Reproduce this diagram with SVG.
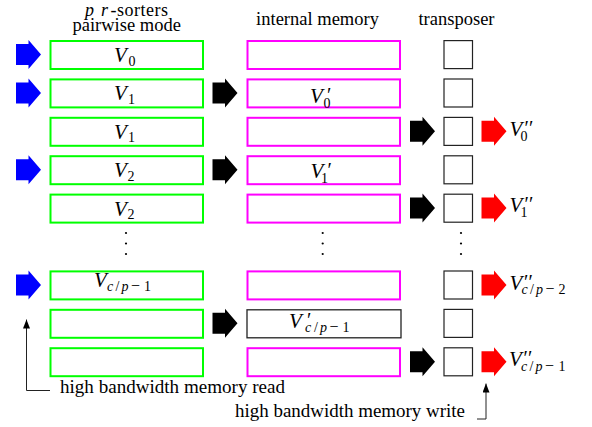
<svg xmlns="http://www.w3.org/2000/svg" width="592" height="427" viewBox="0 0 592 427">
<style>
text{font-family:'Liberation Serif','DejaVu Serif',serif}
.t{font-size:18.5px;fill:#000}
.h{font-size:18px}
.v{font-size:21px;font-style:italic;fill:#000}
.s{font-size:14px;font-style:normal}
.i{font-style:italic}
.mi{font-size:16px}
.pr{font-style:normal;font-size:20px}
.g{fill:none;stroke:#00ff00;stroke-width:2}
.m{fill:none;stroke:#ff00ff;stroke-width:2}
.k{fill:none;stroke:#222;stroke-width:1.3}
.q{fill:none;stroke:#222;stroke-width:1.2}
.ab{fill:#0000ff}
.ak{fill:#000}
.ar{fill:#ff0000}
.ln{fill:none;stroke:#222;stroke-width:1}
.dot{fill:#000}
</style>
<defs>
<path id="arr" d="M0,-10.5 H12.5 V-14.5 L25,0 L12.5,14.5 V10.5 H0 Z"/>
<marker id="tip" markerWidth="9" markerHeight="7" refX="9" refY="3.5" orient="auto" markerUnits="userSpaceOnUse">
<path d="M0,0 L9,3.5 L0,7 Z" fill="#000"/>
</marker>
</defs>

<g id="headers">
<text class="t h" y="15.5"><tspan x="85" class="i">p</tspan><tspan x="101" class="i">r</tspan><tspan x="110.5" textLength="57.5">-sorters</tspan></text>
<text class="t" x="126.7" y="31" text-anchor="middle">pairwise mode</text>
<text class="t" x="317.5" y="24.5" text-anchor="middle">internal memory</text>
<text class="t" x="456.5" y="24.5" text-anchor="middle">transposer</text>
</g>

<g id="sorters">
<g id="s0"><rect class="g" x="50.5" y="41" width="152.5" height="28"/><text class="v"><tspan x="114" y="62">V</tspan><tspan class="s" x="128.5" y="65.5">0</tspan></text></g>
<g id="s1"><rect class="g" x="50.5" y="79.4" width="152.5" height="28"/><text class="v"><tspan x="114" y="100.4">V</tspan><tspan class="s" x="128" y="103.9">1</tspan></text></g>
<g id="s2"><rect class="g" x="50.5" y="117.8" width="152.5" height="28"/><text class="v"><tspan x="114" y="138.8">V</tspan><tspan class="s" x="128" y="142.3">1</tspan></text></g>
<g id="s3"><rect class="g" x="50.5" y="156.2" width="152.5" height="28"/><text class="v"><tspan x="114" y="177.2">V</tspan><tspan class="s" x="127.5" y="180.7">2</tspan></text></g>
<g id="s4"><rect class="g" x="50.5" y="194.6" width="152.5" height="28"/><text class="v"><tspan x="114" y="215.6">V</tspan><tspan class="s" x="127.5" y="219.1">2</tspan></text></g>
<g id="s6"><rect class="g" x="50.5" y="271.4" width="152.5" height="28"/><text class="v"><tspan x="94" y="287">V</tspan><tspan class="s i" x="107" y="290.5">c</tspan><tspan class="s" x="115.5">/</tspan><tspan class="s i" x="121.5">p</tspan><tspan class="s mi" x="131">−</tspan><tspan class="s" x="144">1</tspan></text></g>
<g id="s7"><rect class="g" x="50.5" y="309.8" width="152.5" height="28"/></g>
<g id="s8"><rect class="g" x="50.5" y="348.2" width="152.5" height="28"/></g>
</g>

<g id="memory">
<g id="m0"><rect class="m" x="247.5" y="41" width="152.5" height="28"/></g>
<g id="m1"><rect class="m" x="247.5" y="79.4" width="152.5" height="28"/><text class="v"><tspan x="310" y="103">V</tspan><tspan class="pr" x="327" y="102">′</tspan><tspan class="s" x="323.5" y="107.5">0</tspan></text></g>
<g id="m2"><rect class="m" x="247.5" y="117.8" width="152.5" height="28"/></g>
<g id="m3"><rect class="m" x="247.5" y="156.2" width="152.5" height="28"/><text class="v"><tspan x="310.5" y="178.3">V</tspan><tspan class="pr" x="327.5" y="177.3">′</tspan><tspan class="s" x="321" y="183.3">1</tspan></text></g>
<g id="m4"><rect class="m" x="247.5" y="194.6" width="152.5" height="28"/></g>
<g id="m6"><rect class="m" x="247.5" y="271.4" width="152.5" height="28"/></g>
<g id="m7"><rect class="k" x="247" y="309.8" width="154" height="28"/><text class="v"><tspan x="289" y="328.3">V</tspan><tspan class="pr" x="307" y="327.3">′</tspan><tspan class="s i" x="305" y="331.8">c</tspan><tspan class="s" x="314">/</tspan><tspan class="s i" x="320">p</tspan><tspan class="s mi" x="329.5">−</tspan><tspan class="s" x="342.5">1</tspan></text></g>
<g id="m8"><rect class="m" x="247.5" y="348.2" width="152.5" height="28"/></g>
</g>

<g id="transposer">
<rect class="q" x="444" y="40.6" width="28.5" height="28"/>
<rect class="q" x="444" y="79" width="28.5" height="28"/>
<rect class="q" x="444" y="117.4" width="28.5" height="28"/>
<rect class="q" x="444" y="155.8" width="28.5" height="28"/>
<rect class="q" x="444" y="194.2" width="28.5" height="28"/>
<rect class="q" x="444" y="271" width="28.5" height="28"/>
<rect class="q" x="444" y="309.4" width="28.5" height="28"/>
<rect class="q" x="444" y="347.8" width="28.5" height="28"/>
</g>

<g id="dots">
<circle class="dot" cx="126" cy="233" r="1.1"/><circle class="dot" cx="126" cy="243.5" r="1.1"/><circle class="dot" cx="126" cy="254" r="1.1"/>
<circle class="dot" cx="322.7" cy="233" r="1.1"/><circle class="dot" cx="322.7" cy="243.5" r="1.1"/><circle class="dot" cx="322.7" cy="254" r="1.1"/>
<circle class="dot" cx="461" cy="233" r="1.1"/><circle class="dot" cx="461" cy="243.5" r="1.1"/><circle class="dot" cx="461" cy="254" r="1.1"/>
</g>

<g id="outputs">
<text class="v"><tspan x="509.5" y="135.5">V</tspan><tspan class="pr" x="524.5" y="134.5">′′</tspan><tspan class="s" x="520.5" y="140.5">0</tspan></text>
<text class="v"><tspan x="509.5" y="211.7">V</tspan><tspan class="pr" x="524.5" y="210.7">′′</tspan><tspan class="s" x="520.5" y="217">1</tspan></text>
<text class="v"><tspan x="509.5" y="290">V</tspan><tspan class="pr" x="524" y="289">′′</tspan><tspan class="s i" x="521.5" y="294">c</tspan><tspan class="s" x="530">/</tspan><tspan class="s i" x="536">p</tspan><tspan class="s mi" x="545.5">−</tspan><tspan class="s" x="558.5">2</tspan></text>
<text class="v"><tspan x="509" y="366">V</tspan><tspan class="pr" x="523.5" y="365">′′</tspan><tspan class="s i" x="521" y="371">c</tspan><tspan class="s" x="529.5">/</tspan><tspan class="s i" x="535.5">p</tspan><tspan class="s mi" x="545">−</tspan><tspan class="s" x="558.5">1</tspan></text>
</g>

<g id="connectors">
<use href="#arr" class="ab" x="16" y="54.5"/>
<use href="#arr" class="ab" x="16" y="92.9"/>
<use href="#arr" class="ab" x="16" y="169.7"/>
<use href="#arr" class="ab" x="16" y="284.9"/>
<use href="#arr" class="ak" x="212.5" y="92.9"/>
<use href="#arr" class="ak" x="212.5" y="169.7"/>
<use href="#arr" class="ak" x="212.5" y="323.3"/>
<use href="#arr" class="ak" x="410" y="131.3"/>
<use href="#arr" class="ak" x="410" y="208.1"/>
<use href="#arr" class="ak" x="410" y="361.7"/>
<use href="#arr" class="ar" x="481.5" y="131.3"/>
<use href="#arr" class="ar" x="481.5" y="208.1"/>
<use href="#arr" class="ar" x="481.5" y="284.9"/>
<use href="#arr" class="ar" x="481.5" y="361.7"/>
<path class="ln" d="M50,390.5 H26.5 V319.5" marker-end="url(#tip)"/>
<path class="ln" d="M477,419 H486 V383.5" marker-end="url(#tip)"/>
</g>

<g id="notes">
<text class="t" x="60" y="392.5" textLength="225" lengthAdjust="spacingAndGlyphs">high bandwidth memory read</text>
<text class="t" x="235" y="416.5" textLength="230" lengthAdjust="spacingAndGlyphs">high bandwidth memory write</text>
</g>
</svg>
